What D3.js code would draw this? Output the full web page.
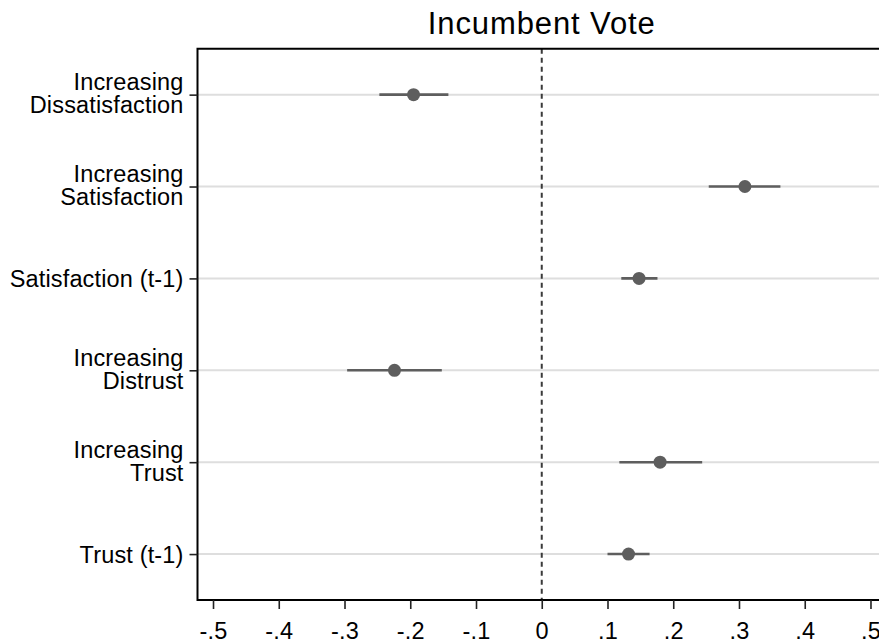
<!DOCTYPE html>
<html>
<head>
<meta charset="utf-8">
<script src="https://cdn.jsdelivr.net/npm/d3@7"></script>
<style>
  body { margin: 0; background: #fff; }
  svg { display: block; font-family: 'Liberation Sans', Arial, sans-serif; }
</style>
</head>
<body>
<svg id="chart" width="879" height="639"></svg>
<script>
// coefficient plot: point estimate + confidence interval per row
const labels = [
  ['Increasing', 'Dissatisfaction'],
  ['Increasing', 'Satisfaction'],
  ['Satisfaction (t-1)'],
  ['Increasing', 'Distrust'],
  ['Increasing', 'Trust'],
  ['Trust (t-1)'],
];
const estimates = [-0.195, 0.309, 0.148, -0.224, 0.180, 0.132];
const ciLow = [-0.247, 0.254, 0.121, -0.296, 0.118, 0.100];
const ciHigh = [-0.142, 0.363, 0.176, -0.152, 0.244, 0.164];
const xTicks = [-0.5, -0.4, -0.3, -0.2, -0.1, 0, 0.1, 0.2, 0.3, 0.4, 0.5];
const title = 'Incumbent Vote';

const rows = labels.map((l, i) => ({
  key: l.join(' '), lines: l, est: estimates[i], lo: ciLow[i], hi: ciHigh[i],
}));

const margin = { top: 48.7, left: 197.5, bottom: 600, right: 886 };
const svg = d3.select('#chart');

const x = d3.scaleLinear()
    .domain([-0.5236, 0.5236])
    .range([margin.left, margin.right]);
const y = d3.scalePoint()
    .domain(rows.map(d => d.key))
    .range([margin.top, margin.bottom])
    .padding(0.5);

const fmt = v => v === 0 ? '0' : (v < 0 ? '-' : '') + d3.format('.1f')(Math.abs(v)).replace(/^0/, '');

// horizontal row grid
svg.append('g')
  .selectAll('line')
  .data(rows)
  .join('line')
    .attr('x1', margin.left)
    .attr('x2', margin.right)
    .attr('y1', d => y(d.key))
    .attr('y2', d => y(d.key))
    .attr('stroke', '#dedede')
    .attr('stroke-width', 2);

// reference line at zero
svg.append('line')
    .attr('x1', x(0)).attr('x2', x(0))
    .attr('y1', margin.top).attr('y2', margin.bottom)
    .attr('stroke', '#3a3a3a')
    .attr('stroke-width', 2)
    .attr('stroke-dasharray', '5,4');

// confidence intervals
svg.append('g')
  .selectAll('line')
  .data(rows)
  .join('line')
    .attr('x1', d => x(d.lo))
    .attr('x2', d => x(d.hi))
    .attr('y1', d => y(d.key))
    .attr('y2', d => y(d.key))
    .attr('stroke', '#5e5e5e')
    .attr('stroke-width', 2.6);

// point estimates
svg.append('g')
  .selectAll('circle')
  .data(rows)
  .join('circle')
    .attr('cx', d => x(d.est))
    .attr('cy', d => y(d.key))
    .attr('r', 6.5)
    .attr('fill', '#5e5e5e');

// frame
svg.append('path')
    .attr('d', `M${margin.right},${margin.top}H${margin.left}V${margin.bottom}H${margin.right}`)
    .attr('fill', 'none')
    .attr('stroke', '#000')
    .attr('stroke-width', 2);

// x axis
const xAxis = svg.append('g')
    .attr('transform', `translate(0,${margin.bottom})`)
    .call(d3.axisBottom(x).tickValues(xTicks).tickFormat(fmt).tickSize(9).tickPadding(8));
xAxis.select('.domain').remove();
xAxis.selectAll('.tick line').attr('stroke', '#222').attr('stroke-width', 1.6);
xAxis.selectAll('.tick text')
    .attr('font-size', 23.5)
    .attr('letter-spacing', 0.2)
    .attr('fill', '#000')
    .attr('dy', null)
    .attr('y', 38.5);

// y axis with multi-line labels
const yAxis = svg.append('g')
    .attr('transform', `translate(${margin.left},0)`)
    .call(d3.axisLeft(y).tickSize(8).tickFormat(''));
yAxis.select('.domain').remove();
yAxis.selectAll('.tick line').attr('stroke', '#222').attr('stroke-width', 1.6);
yAxis.selectAll('.tick text').remove();
yAxis.selectAll('.tick')
  .data(rows)
  .append('text')
    .attr('x', -14)
    .attr('text-anchor', 'end')
    .attr('font-size', 23.5)
    .attr('letter-spacing', 0.15)
    .attr('fill', '#000')
  .selectAll('tspan')
  .data(d => d.lines.map((t, i) => ({ t, i, n: d.lines.length })))
  .join('tspan')
    .attr('x', -14)
    .attr('y', d => d.n === 1 ? 8 : (d.i === 0 ? -4.7 : 18))
    .text(d => d.t);

// title
svg.append('text')
    .attr('x', x(0))
    .attr('y', 34)
    .attr('text-anchor', 'middle')
    .attr('font-size', 31)
    .attr('letter-spacing', 0.9)
    .attr('fill', '#000')
    .text(title);
</script>
</body>
</html>
